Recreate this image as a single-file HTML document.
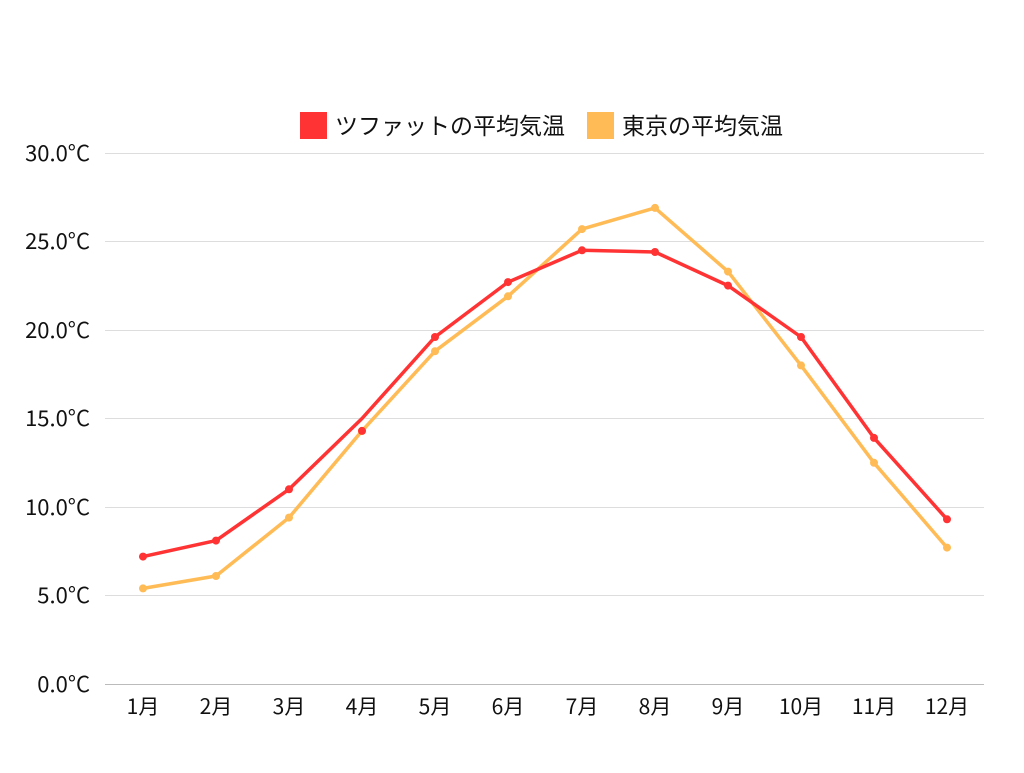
<!DOCTYPE html>
<html><head><meta charset="utf-8"><style>
body{margin:0;background:#fff;}
text{font-family:"Noto Sans CJK JP","Liberation Sans",sans-serif;fill:#111;}
</style></head><body>
<svg width="1024" height="768" xmlns="http://www.w3.org/2000/svg">
<g stroke="#dddddd" stroke-width="1">
<line x1="105" x2="984" y1="153.5" y2="153.5"/>
<line x1="105" x2="984" y1="241.5" y2="241.5"/>
<line x1="105" x2="984" y1="330.5" y2="330.5"/>
<line x1="105" x2="984" y1="418.5" y2="418.5"/>
<line x1="105" x2="984" y1="507.5" y2="507.5"/>
<line x1="105" x2="984" y1="595.5" y2="595.5"/>
</g>
<line x1="105" x2="984" y1="684.5" y2="684.5" stroke="#bbb"/>
<g font-size="22" text-anchor="end">
<text x="90" y="161">30.0°C</text>
<text x="90" y="249">25.0°C</text>
<text x="90" y="338">20.0°C</text>
<text x="90" y="426">15.0°C</text>
<text x="90" y="515">10.0°C</text>
<text x="90" y="603">5.0°C</text>
<text x="90" y="692">0.0°C</text>
</g>
<g font-size="21" text-anchor="middle">
<text x="143" y="714">1月</text><text x="216" y="714">2月</text><text x="289" y="714">3月</text><text x="362" y="714">4月</text><text x="435" y="714">5月</text><text x="508" y="714">6月</text><text x="582" y="714">7月</text><text x="655" y="714">8月</text><text x="728" y="714">9月</text><text x="801" y="714">10月</text><text x="874" y="714">11月</text><text x="947" y="714">12月</text>
</g>
<rect x="300" y="112" width="27" height="27" fill="#ff3333"/>
<text x="335" y="134" font-size="23" textLength="230">ツファットの平均気温</text>
<rect x="587" y="112" width="27" height="27" fill="#ffbb55"/>
<text x="622" y="134" font-size="23" textLength="161">東京の平均気温</text>
<polyline fill="none" stroke="#ffbb55" stroke-width="3.5" stroke-linejoin="round" points="143,588.4 216,576 289,517.6 362,430.9 435,351.2 508,296.3 582,229.1 655,207.9 728,271.6 801,365.4 874,462.8 947,547.6"/>
<g fill="#ffbb55">
<circle cx="143" cy="588.4" r="4"/><circle cx="216" cy="576" r="4"/><circle cx="289" cy="517.6" r="4"/><circle cx="362" cy="430.9" r="4"/><circle cx="435" cy="351.2" r="4"/><circle cx="508" cy="296.3" r="4"/><circle cx="582" cy="229.1" r="4"/><circle cx="655" cy="207.9" r="4"/><circle cx="728" cy="271.6" r="4"/><circle cx="801" cy="365.4" r="4"/><circle cx="874" cy="462.8" r="4"/><circle cx="947" cy="547.6" r="4"/>
</g>
<polyline fill="none" stroke="#ff3333" stroke-width="3.5" stroke-linejoin="round" points="143,556.6 216,540.6 289,489.3 362,418.5 435,337 508,282.1 582,250.3 655,252 728,285.6 801,337 874,437.9 947,519.3"/>
<g fill="#ff3333">
<circle cx="143" cy="556.6" r="4"/><circle cx="216" cy="540.6" r="4"/><circle cx="289" cy="489.3" r="4"/><circle cx="362" cy="430.9" r="4"/><circle cx="435" cy="337" r="4"/><circle cx="508" cy="282.1" r="4"/><circle cx="582" cy="250.3" r="4"/><circle cx="655" cy="252" r="4"/><circle cx="728" cy="285.6" r="4"/><circle cx="801" cy="337" r="4"/><circle cx="874" cy="437.9" r="4"/><circle cx="947" cy="519.3" r="4"/>
</g>
</svg>
</body></html>
